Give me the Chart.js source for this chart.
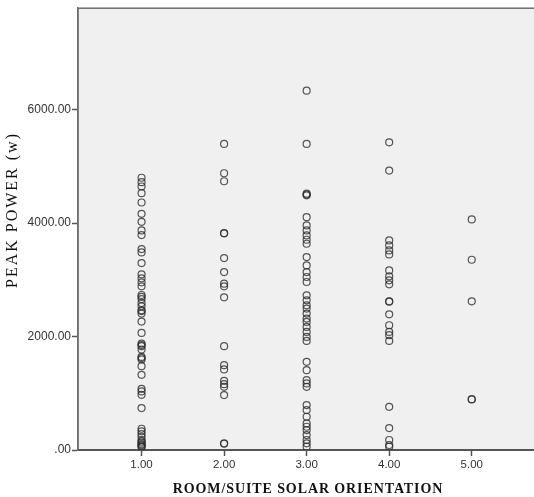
<!DOCTYPE html>
<html>
<head>
<meta charset="utf-8">
<script src="https://cdn.jsdelivr.net/npm/chart.js@4.4.1/dist/chart.umd.min.js"></script>
<style>
html, body { margin: 0; padding: 0; background: #fff; overflow: hidden; }
canvas { display: block; }
</style>
</head>
<body>
<canvas id="myChart" width="540" height="497"></canvas>
<script>
// room/suite solar orientation categories
const orientations = [1, 2, 3, 4, 5];
const yTicks = [0, 2000, 4000, 6000];

// peak power (w) readings per orientation
const peak1 = [4800, 4722, 4646, 4528, 4364, 4165, 4024, 3872, 3789, 3543, 3484, 3296, 3097, 3027,
    2956, 2886, 2733, 2700, 2662, 2592, 2534, 2463, 2450, 2405, 2264, 2064, 1877, 1850, 1830, 1771,
    1642, 1620, 1596, 1478, 1325, 1079, 1032, 973, 739, 375, 329, 282, 234, 176, 150, 128, 100, 83, 60, 58];
const peak2 = [5397, 4880, 4739, 3824, 3820, 3384, 3138, 2933, 2886, 2692, 1830, 1496, 1420, 1220,
    1161, 1114, 968, 118, 110];
const peak3 = [6335, 5397, 4520, 4505, 4490, 4105, 3959, 3871, 3783, 3707, 3637, 3402, 3255, 3138,
    3050, 2962, 2727, 2639, 2551, 2493, 2405, 2317, 2258, 2170, 2082, 1994, 1923, 1554, 1408, 1232,
    1173, 1114, 792, 704, 586, 469, 410, 352, 264, 176, 117, 58];
const peak4 = [5425, 4927, 3695, 3607, 3519, 3449, 3167, 3062, 2991, 2921, 2622, 2615, 2393, 2200,
    2082, 2024, 1923, 762, 387, 176, 88, 58];
const peak5 = [4065, 3355, 2622, 897, 890];

const peakSeries = [peak1, peak2, peak3, peak4, peak5];
const points = [];
peakSeries.forEach((vals, i) => {
    vals.forEach(v => points.push({ x: orientations[i], y: v }));
});

const xTitle = 'ROOM/SUITE SOLAR ORIENTATION';
const yTitle = 'PEAK POWER (w)';

const frame = {
    id: 'frame',
    beforeDraw(chart) {
        const a = chart.chartArea;
        const c = chart.ctx;
        c.save();
        c.fillStyle = '#f0f0f0';
        c.fillRect(a.left, a.top, a.right - a.left, a.bottom - a.top);
        c.strokeStyle = '#6e6e6e';
        c.lineWidth = 1.5;
        c.strokeRect(a.left, a.top, a.right - a.left, a.bottom - a.top);
        c.restore();
    },
    afterDraw(chart) {
        const c = chart.ctx;
        c.save();
        c.fillStyle = '#111';
        c.textAlign = 'center';
        c.textBaseline = 'middle';
        // x title
        c.font = 'bold 14px "Liberation Serif"';
        c.letterSpacing = '0.9px';
        c.fillText(xTitle, 308, 489);
        // y title
        c.translate(13, 210);
        c.rotate(-Math.PI / 2);
        c.font = '16px "Liberation Serif"';
        c.letterSpacing = '2px';
        c.fillText(yTitle, 0, 0);
        c.restore();
    }
};

const ctx = document.getElementById('myChart');
new Chart(ctx, {
    type: 'scatter',
    data: {
        datasets: [{
            label: 'Peak power',
            data: points,
            pointStyle: 'circle',
            pointRadius: 3.5,
            pointHoverRadius: 3.5,
            pointBorderWidth: 1.2,
            pointBorderColor: 'rgba(45,45,45,0.8)',
            pointBackgroundColor: 'rgba(0,0,0,0)'
        }]
    },
    options: {
        responsive: false,
        animation: false,
        devicePixelRatio: 1,
        layout: { padding: { top: 7, right: 3, left: 0, bottom: 0 } },
        plugins: {
            legend: { display: false },
            tooltip: { enabled: false }
        },
        scales: {
            x: {
                type: 'linear',
                min: 0.23,
                max: 5.77,
                afterBuildTicks: s => { s.ticks = orientations.map(v => ({ value: v })); },
                afterFit: s => { s.height = 47; },
                ticks: {
                    callback: v => v.toFixed(2),
                    font: { family: '"Liberation Sans"', size: 11.5 },
                    color: '#333',
                    padding: 2,
                    maxRotation: 0
                },
                grid: { drawOnChartArea: false, drawTicks: true, tickLength: 6, color: '#555', tickWidth: 1.5 },
                border: { display: true, color: '#555', width: 2 }
            },
            y: {
                min: 0,
                max: 7790,
                afterBuildTicks: s => { s.ticks = yTicks.map(v => ({ value: v })); },
                afterFit: s => { s.width = 78; },
                ticks: {
                    callback: v => v === 0 ? '.00' : v.toFixed(2),
                    font: { family: '"Liberation Sans"', size: 12 },
                    color: '#333',
                    padding: 1
                },
                grid: { drawOnChartArea: false, drawTicks: true, tickLength: 6, color: '#555', tickWidth: 1.5 },
                border: { display: true, color: '#6e6e6e', width: 1.5 }
            }
        }
    },
    plugins: [frame]
});
</script>
</body>
</html>
